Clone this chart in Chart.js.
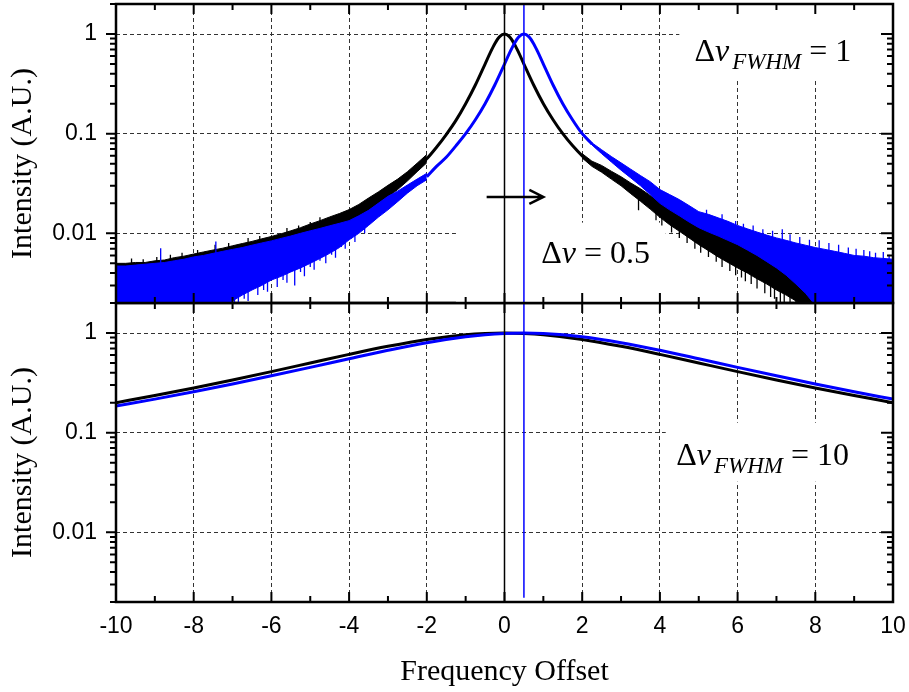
<!DOCTYPE html>
<html>
<head>
<meta charset="utf-8">
<title>Frequency Offset</title>
<script src="https://cdn.jsdelivr.net/npm/chart.js@4.4.1/dist/chart.umd.min.js"></script>
<style>
  html, body { margin: 0; padding: 0; background: #fff; }
  #wrap { position: relative; width: 909px; height: 692px; }
  #wrap canvas { position: absolute; left: 0; top: 0; }
</style>
</head>
<body>
<div id="wrap">
  <canvas id="bottomChart" width="909" height="692"></canvas>
  <canvas id="topChart" width="909" height="692"></canvas>
</div>
<script>
// axis ticks
const xMajorTicks = [-10, -8, -6, -4, -2, 0, 2, 4, 6, 8, 10];
const xMinorTicks = [-9, -7, -5, -3, -1, 1, 3, 5, 7, 9];
const yMajorTicks = [0.01, 0.1, 1];
const yMinorTicks = [0.002, 0.003, 0.004, 0.005, 0.006, 0.007, 0.008, 0.009,
                     0.02, 0.03, 0.04, 0.05, 0.06, 0.07, 0.08, 0.09,
                     0.2, 0.3, 0.4, 0.5, 0.6, 0.7, 0.8, 0.9, 2];
const yRange = [0.002, 2];

// centre of the two lines (reference 0, shifted 0.5)
const markerX = [0, 0.5];

// narrow line (FWHM = 1): smooth part around the peak
const blackPeakX = [-2.25, -2, -1.75, -1.5, -1.25, -1, -0.75, -0.5, -0.375, -0.25, -0.125, 0,
                    0.125, 0.25, 0.375, 0.5, 0.75, 1, 1.25, 1.5, 1.75, 2, 2.25];
const blackPeakY = [0.046, 0.056, 0.073, 0.098, 0.136, 0.2, 0.308, 0.5, 0.64, 0.8, 0.941, 1,
                    0.941, 0.8, 0.64, 0.5, 0.308, 0.2, 0.138, 0.1, 0.076, 0.060, 0.050];
const bluePeakX = [-2, -1.75, -1.5, -1.25, -1, -0.75, -0.5, -0.25, 0, 0.125, 0.25, 0.375, 0.5,
                   0.625, 0.75, 0.875, 1, 1.25, 1.5, 1.75, 2, 2.25];
const bluePeakY = [0.037, 0.047, 0.058, 0.0755, 0.1, 0.138, 0.2, 0.308, 0.5, 0.64, 0.8, 0.941, 1,
                   0.941, 0.8, 0.64, 0.5, 0.308, 0.2, 0.138, 0.1, 0.079];

// narrow line: noisy wings, upper and lower envelope
const tailLeftX = [-10, -9.75, -9.5, -9.25, -9, -8.75, -8.5, -8.25, -8, -7.75, -7.5, -7.25, -7,
                   -6.75, -6.5, -6.25, -6, -5.75, -5.5, -5.25, -5, -4.75, -4.5, -4.25, -4,
                   -3.75, -3.5, -3.25, -3, -2.75, -2.5, -2.25, -2];
const blackHiLeft = [0.0050, 0.0050, 0.0051, 0.0051, 0.0053, 0.0054, 0.0057, 0.0059, 0.0062, 0.0065,
                     0.0068, 0.0071, 0.0075, 0.0079, 0.0083, 0.0088, 0.0093, 0.0099, 0.0106, 0.0114,
                     0.0124, 0.0134, 0.0146, 0.0158, 0.0173, 0.0195, 0.0226, 0.0260, 0.0303, 0.0350,
                     0.0415, 0.0505, 0.0618];
const blackLoLeft = [0.0040, 0.0040, 0.0041, 0.0041, 0.0043, 0.0044, 0.0046, 0.0048, 0.0051, 0.0054,
                     0.0057, 0.0060, 0.0062, 0.0065, 0.0069, 0.0072, 0.0076, 0.0080, 0.0085, 0.0091,
                     0.0097, 0.0104, 0.0111, 0.0118, 0.0126, 0.0140, 0.0168, 0.0198, 0.0232, 0.0275,
                     0.0335, 0.0415, 0.0510];
const blueHiLeft = [0.0047, 0.0047, 0.0048, 0.0049, 0.0050, 0.0051, 0.0053, 0.0055, 0.0058, 0.0060,
                    0.0063, 0.0066, 0.0069, 0.0072, 0.0076, 0.0080, 0.0084, 0.0089, 0.0094, 0.0100,
                    0.0106, 0.0112, 0.0119, 0.0126, 0.0134, 0.0150, 0.0170, 0.0200, 0.0235, 0.0265,
                    0.0305, 0.0350, 0.0400];
const blueLoLeft = [0.0015, 0.0015, 0.0015, 0.0015, 0.0015, 0.0015, 0.0015, 0.0015, 0.0015, 0.0015,
                    0.0015, 0.0018, 0.0021, 0.0024, 0.0027, 0.0030, 0.0034, 0.0037, 0.0041, 0.0045,
                    0.0050, 0.0056, 0.0063, 0.0072, 0.0086, 0.0100, 0.0120, 0.0145, 0.0172, 0.0208,
                    0.0253, 0.0300, 0.0345];

const tailRightX = [2, 2.25, 2.5, 2.75, 3, 3.25, 3.5, 3.75, 4, 4.25, 4.5, 4.75, 5, 5.25,
                    5.5, 5.75, 6, 6.25, 6.5, 6.75, 7, 7.25, 7.5, 7.75, 8, 8.25, 8.5, 8.75, 9, 9.25,
                    9.5, 9.75, 10];
const blackHiRight = [0.063, 0.053, 0.048, 0.042, 0.037, 0.032, 0.028, 0.024, 0.0210, 0.0185, 0.0165,
                      0.0145, 0.0128, 0.0114, 0.0103, 0.0094, 0.0086, 0.0080, 0.0074, 0.0069, 0.0065,
                      0.0061, 0.0058, 0.0056, 0.0054, 0.0052, 0.0050, 0.0049, 0.0048, 0.0047, 0.0046,
                      0.0046, 0.0045];
const blackLoRight = [0.057, 0.047, 0.041, 0.035, 0.030, 0.025, 0.0210, 0.0175, 0.0145, 0.0122, 0.0105,
                      0.0090, 0.0077, 0.0067, 0.0058, 0.0051, 0.0045, 0.0040, 0.0035, 0.0031, 0.0027,
                      0.0024, 0.0021, 0.0018, 0.0015, 0.0015, 0.0015, 0.0015, 0.0015, 0.0015, 0.0015,
                      0.0015, 0.0015];
const blueHiRight = [0.102, 0.081, 0.069, 0.059, 0.051, 0.044, 0.038, 0.033, 0.0275, 0.0245, 0.0218,
                     0.0190, 0.0165, 0.0155, 0.0143, 0.0132, 0.0120, 0.0111, 0.0103, 0.0096, 0.0090,
                     0.0085, 0.0080, 0.0076, 0.0072, 0.0069, 0.0066, 0.0063, 0.0060, 0.0059, 0.0057,
                     0.0056, 0.0055];
const blueLoRight = [0.097, 0.077, 0.063, 0.052, 0.043, 0.036, 0.030, 0.0245, 0.0200, 0.0172, 0.0150,
                     0.0130, 0.0114, 0.0103, 0.0094, 0.0085, 0.0077, 0.0068, 0.0060, 0.0052, 0.0045,
                     0.0038, 0.0031, 0.0025, 0.0019, 0.0015, 0.0015, 0.0015, 0.0015, 0.0015, 0.0015,
                     0.0015, 0.0015];

// narrow line: single noise spikes sticking out of the wings (x, from, to)
const blackSpikeX = [-9.6, -9.3, -8.95, -8.6, -8.3, -7.9, -7.45, -7.1, -6.6, -6.3, -5.6, -5.3, -5.0, -4.75,
                     3.45, 3.9, 4.05, 4.3, 4.5, 4.7, 4.9, 5.05, 5.25, 5.45, 5.6, 5.8, 5.95, 6.1, 6.2,
                     6.35, 6.5, 6.7, 6.85, 6.95, 7.1, 7.2, 7.35, 7.5];
const blackSpikeFrom = [0.0048, 0.0048, 0.0050, 0.0052, 0.0055, 0.0058, 0.0064, 0.0068, 0.0078, 0.0082,
                        0.0098, 0.0105, 0.0115, 0.0128,
                        0.0230, 0.0170, 0.0160, 0.0130, 0.0115, 0.0100, 0.0090, 0.0085, 0.0075, 0.0066,
                        0.0062, 0.0057, 0.0054, 0.0050, 0.0048, 0.0044, 0.0041, 0.0037, 0.0034, 0.0032,
                        0.0030, 0.0028, 0.0026, 0.0024];
const blackSpikeTo = [0.0056, 0.0055, 0.0058, 0.0061, 0.0064, 0.0068, 0.0077, 0.0080, 0.0090, 0.0094,
                      0.0113, 0.0120, 0.0130, 0.0145,
                      0.0170, 0.0135, 0.0120, 0.0102, 0.0090, 0.0080, 0.0070, 0.0064, 0.0058, 0.0052,
                      0.0046, 0.0042, 0.0038, 0.0036, 0.0033, 0.0031, 0.0028, 0.0025, 0.0023, 0.0022,
                      0.0020, 0.0019, 0.0017, 0.0016];
const blueSpikeX = [-8.85, -7.43, -7.1, -6.95, -6.85, -6.7, -6.6, -6.35, -6.2, -6.1, -5.85, -5.7, -5.6,
                    -5.4, -5.25, -5.15, -5.0, -4.9, -4.75, -4.6, -4.45, -4.35, -4.2, -4.1, -3.95,
                    -3.85, -3.6,
                    5.2, 5.6, 5.95, 6.15, 6.4, 6.65, 6.9, 7.15, 7.35, 7.6, 7.85, 8.1, 8.35, 8.6,
                    8.85, 9.05, 9.25, 9.4, 9.55, 9.75, 9.9];
const blueSpikeFrom = [0.0048, 0.0060, 0.0024, 0.0026, 0.0028, 0.0030, 0.0031, 0.0034, 0.0036, 0.0038,
                       0.0042, 0.0044, 0.0046, 0.0050, 0.0052, 0.0055, 0.0058, 0.0060, 0.0064, 0.0070,
                       0.0075, 0.0080, 0.0088, 0.0095, 0.0100, 0.0110, 0.0130,
                       0.0150, 0.0135, 0.0110, 0.0108, 0.0098, 0.0094, 0.0085, 0.0080, 0.0082, 0.0073,
                       0.0072, 0.0066, 0.0066, 0.0061, 0.0060, 0.0056, 0.0056, 0.0054, 0.0054, 0.0052,
                       0.0052];
const blueSpikeTo = [0.0071, 0.0083, 0.0016, 0.0017, 0.0019, 0.0022, 0.0021, 0.0024, 0.0027, 0.0026,
                     0.0029, 0.0034, 0.0032, 0.0030, 0.0041, 0.0037, 0.0046, 0.0043, 0.0053, 0.0050,
                     0.0061, 0.0057, 0.0073, 0.0070, 0.0088, 0.0082, 0.0100,
                     0.0172, 0.0155, 0.0133, 0.0125, 0.0120, 0.0110, 0.0106, 0.0110, 0.0098, 0.0092,
                     0.0086, 0.0085, 0.0080, 0.0077, 0.0072, 0.0070, 0.0068, 0.0066, 0.0064, 0.0065,
                     0.0061];

// broad line (FWHM = 10)
const wideX = [-10, -9, -8, -7, -6, -5, -4, -3, -2, -1, -0.5, 0, 0.5, 1, 2, 3, 4, 5, 6, 7, 8, 9, 10];
const blackWide = [0.200, 0.236, 0.281, 0.338, 0.410, 0.500, 0.610, 0.735, 0.862, 0.962, 0.990, 1,
                   0.990, 0.962, 0.862, 0.735, 0.610, 0.500, 0.410, 0.338, 0.281, 0.236, 0.200];
const blueWide = [0.185, 0.217, 0.257, 0.308, 0.372, 0.452, 0.552, 0.671, 0.800, 0.917, 0.962, 0.990,
                  1, 0.990, 0.917, 0.800, 0.671, 0.552, 0.452, 0.372, 0.308, 0.257, 0.217];

const BLACK = '#000000';
const BLUE = '#0000ff';
const GRID = '#333333';
const SANS = '"Liberation Sans", Arial, sans-serif';
const SERIF = '"Liberation Serif", "Times New Roman", serif';

function pts(xs, ys) {
    return xs.map((x, i) => ({ x: x, y: ys[i] }));
}

// vertical strokes, broken apart by null points
function spikes(xs, from, to) {
    const out = [];
    xs.forEach((x, i) => {
        out.push({ x: x, y: from[i] }, { x: x, y: to[i] }, { x: x, y: null });
    });
    return out;
}

function lineSet(data, color, width, order, extra) {
    return Object.assign({
        data: data,
        borderColor: color,
        backgroundColor: color,
        borderWidth: width,
        pointRadius: 0,
        tension: 0,
        fill: false,
        clip: 0,
        order: order
    }, extra || {});
}

function vline(x, y0, y1, color) {
    return lineSet([{ x: x, y: y0 }, { x: x, y: y1 }], color, 1.5, 0);
}

function deltaRuns(sub, value) {
    const runs = [
        { t: '\u0394', font: '32px ' + SERIF },
        { t: '\u03bd', font: 'italic 32px ' + SERIF }
    ];
    if (sub) runs.push({ t: sub, font: 'italic 23px ' + SERIF, dy: 8, pre: 3 });
    runs.push({ t: ' = ' + value, font: '32px ' + SERIF });
    return runs;
}

// no automatic label padding around the plot area
function fixPadding(s) {
    s.paddingLeft = 0;
    s.paddingRight = 0;
    s.paddingTop = 0;
    s.paddingBottom = 0;
}

// frame, tick marks, text, white label boxes
function decorPlugin(cfg) {
    return {
        id: 'decor',
        beforeDatasetsDraw(chart) {
            const ctx = chart.ctx, sx = chart.scales.x, sy = chart.scales.y;
            ctx.save();
            ctx.fillStyle = '#ffffff';
            cfg.labels.forEach(l => {
                const b = l.box;
                const x0 = sx.getPixelForValue(b.x0), x1 = sx.getPixelForValue(b.x1);
                const y0 = sy.getPixelForValue(b.y0), y1 = sy.getPixelForValue(b.y1);
                ctx.fillRect(Math.min(x0, x1), Math.min(y0, y1), Math.abs(x1 - x0), Math.abs(y1 - y0));
            });
            ctx.restore();
        },
        afterDatasetsDraw(chart) {
            const ctx = chart.ctx, sx = chart.scales.x, sy = chart.scales.y;
            const a = chart.chartArea;
            ctx.save();
            ctx.strokeStyle = BLACK;
            ctx.lineCap = 'butt';

            // tick marks
            ctx.lineWidth = 2;
            ctx.beginPath();
            const xt = (v, len) => {
                const px = sx.getPixelForValue(v);
                ctx.moveTo(px, a.bottom); ctx.lineTo(px, a.bottom - len);
                ctx.moveTo(px, a.top); ctx.lineTo(px, a.top + len);
            };
            xMajorTicks.forEach(v => xt(v, 10));
            xMinorTicks.forEach(v => xt(v, 6));
            const yt = (v, outLen, inLen) => {
                const py = sy.getPixelForValue(v);
                ctx.moveTo(a.left, py); ctx.lineTo(a.left - outLen, py);
                ctx.moveTo(a.right, py); ctx.lineTo(a.right - inLen, py);
            };
            yMajorTicks.forEach(v => yt(v, 10, 12));
            yMinorTicks.forEach(v => yt(v, 6, 6));
            ctx.stroke();

            // frame
            ctx.lineWidth = 2.5;
            ctx.strokeRect(a.left, a.top, a.right - a.left, a.bottom - a.top);

            // arrow
            if (cfg.arrow) {
                const x0 = sx.getPixelForValue(cfg.arrow.x0);
                const x1 = sx.getPixelForValue(cfg.arrow.x1);
                const py = sy.getPixelForValue(cfg.arrow.y);
                ctx.lineWidth = 2.5;
                ctx.beginPath();
                ctx.moveTo(x0, py); ctx.lineTo(x1, py);
                ctx.moveTo(x1 - 14, py - 7); ctx.lineTo(x1, py); ctx.lineTo(x1 - 14, py + 7);
                ctx.stroke();
            }

            // labels
            ctx.fillStyle = BLACK;
            ctx.textBaseline = 'alphabetic';
            ctx.textAlign = 'left';
            cfg.labels.forEach(l => {
                let px = sx.getPixelForValue(l.x);
                const py = sy.getPixelForValue(l.y);
                l.runs.forEach(r => {
                    ctx.font = r.font;
                    px += r.pre || 0;
                    ctx.fillText(r.t, px, py + (r.dy || 0));
                    px += ctx.measureText(r.t).width;
                });
            });

            // axis titles
            ctx.font = '30px ' + SERIF;
            ctx.textAlign = 'center';
            ctx.save();
            ctx.translate(31, (a.top + a.bottom) / 2 + 10);
            ctx.rotate(-Math.PI / 2);
            ctx.fillText('Intensity (A.U.)', 0, 0);
            ctx.restore();
            if (cfg.xTitle) {
                ctx.fillText(cfg.xTitle, (a.left + a.right) / 2, 680);
            }
            ctx.restore();
        }
    };
}

function panelOptions(showX) {
    return {
        responsive: false,
        animation: false,
        devicePixelRatio: 1,
        spanGaps: false,
        layout: {
            padding: showX ? { left: 0, right: 16, top: 303, bottom: 0 }
                           : { left: 0, right: 16, top: 4, bottom: 389 }
        },
        plugins: { legend: { display: false }, tooltip: { enabled: false } },
        scales: {
            x: {
                type: 'linear',
                min: -10,
                max: 10,
                afterBuildTicks: s => { s.ticks = xMajorTicks.map(v => ({ value: v })); },
                afterFit: s => { s.height = showX ? 90 : 0; fixPadding(s); },
                grid: { color: GRID, lineWidth: 1, drawTicks: false },
                border: { display: false, dash: [4, 3] },
                ticks: {
                    display: showX,
                    padding: 11,
                    color: BLACK,
                    maxRotation: 0,
                    font: { family: SANS, size: 23 },
                    callback: v => String(v)
                }
            },
            y: {
                type: 'logarithmic',
                min: yRange[0],
                max: yRange[1],
                afterBuildTicks: s => { s.ticks = yMajorTicks.map(v => ({ value: v })); },
                afterFit: s => { s.width = 116; fixPadding(s); },
                grid: { color: GRID, lineWidth: 1, drawTicks: false },
                border: { display: false, dash: [4, 3] },
                ticks: {
                    padding: 19,
                    color: BLACK,
                    font: { family: SANS, size: 23 },
                    callback: v => String(v)
                }
            }
        }
    };
}

// upper panel: FWHM = 1
new Chart(document.getElementById('topChart').getContext('2d'), {
    type: 'line',
    data: {
        datasets: [
            vline(markerX[0], yRange[0], yRange[1], BLACK),
            vline(markerX[1], yRange[0], yRange[1], BLUE),
            lineSet(spikes(blueSpikeX, blueSpikeFrom, blueSpikeTo), BLUE, 1.3, 1),
            lineSet(pts(tailLeftX, blueHiLeft), BLUE, 1, 1),
            lineSet(pts(tailLeftX, blueLoLeft), BLUE, 1, 1, { fill: '-1' }),
            lineSet(pts(tailRightX, blueHiRight), BLUE, 1, 1),
            lineSet(pts(tailRightX, blueLoRight), BLUE, 1, 1, { fill: '-1' }),
            lineSet(pts(bluePeakX, bluePeakY), BLUE, 3, 1, { cubicInterpolationMode: 'monotone' }),
            lineSet(spikes(blackSpikeX, blackSpikeFrom, blackSpikeTo), BLACK, 1.3, 2),
            lineSet(pts(tailLeftX, blackHiLeft), BLACK, 1, 2),
            lineSet(pts(tailLeftX, blackLoLeft), BLACK, 1, 2, { fill: '-1' }),
            lineSet(pts(tailRightX, blackHiRight), BLACK, 1, 2),
            lineSet(pts(tailRightX, blackLoRight), BLACK, 1, 2, { fill: '-1' }),
            lineSet(pts(blackPeakX, blackPeakY), BLACK, 3, 2, { cubicInterpolationMode: 'monotone' })
        ]
    },
    options: panelOptions(false),
    plugins: [decorPlugin({
        labels: [
            { x: 4.89, y: 0.531, runs: deltaRuns('FWHM', '1'),
              box: { x0: 4.5, x1: 10, y0: 2, y1: 0.35 } },
            { x: 0.945, y: 0.00505, runs: deltaRuns(null, '0.5'),
              box: { x0: -1.25, x1: 4.15, y0: 0.0128, y1: 0.002 } }
        ],
        arrow: { x0: -0.46, x1: 1.0, y: 0.0232 }
    })]
});

// lower panel: FWHM = 10
new Chart(document.getElementById('bottomChart').getContext('2d'), {
    type: 'line',
    data: {
        datasets: [
            vline(markerX[0], yRange[0], yRange[1], BLACK),
            vline(markerX[1], 0.0022, yRange[1], BLUE),
            lineSet(pts(wideX, blueWide), BLUE, 3, 1, { cubicInterpolationMode: 'monotone' }),
            lineSet(pts(wideX, blackWide), BLACK, 3, 2, { cubicInterpolationMode: 'monotone' })
        ]
    },
    options: panelOptions(true),
    plugins: [decorPlugin({
        labels: [
            { x: 4.42, y: 0.0478, runs: deltaRuns('FWHM', '10'),
              box: { x0: 4.15, x1: 10, y0: 0.126, y1: 0.0322 } }
        ],
        xTitle: 'Frequency Offset'
    })]
});
</script>
</body>
</html>
